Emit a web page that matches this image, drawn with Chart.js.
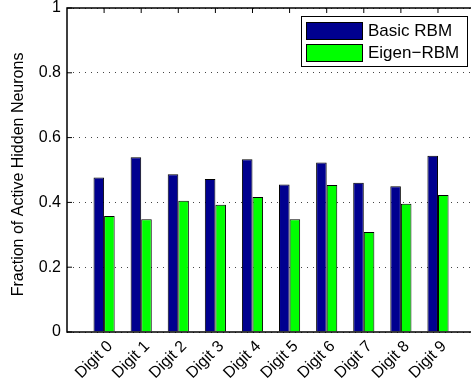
<!DOCTYPE html>
<html>
<head>
<meta charset="utf-8">
<script src="https://cdn.jsdelivr.net/npm/chart.js@4.4.0/dist/chart.umd.min.js"></script>
<style>
  html, body { margin: 0; padding: 0; background: #fff; overflow: hidden; }
</style>
</head>
<body>
<canvas id="c" width="471" height="381"></canvas>
<script>
const categories = ['Digit 0','Digit 1','Digit 2','Digit 3','Digit 4','Digit 5','Digit 6','Digit 7','Digit 8','Digit 9'];
const basicRBM = [0.477, 0.539, 0.487, 0.472, 0.533, 0.455, 0.523, 0.461, 0.450, 0.544];
const eigenRBM = [0.358, 0.348, 0.405, 0.393, 0.417, 0.348, 0.454, 0.309, 0.396, 0.423];
const seriesNames = ['Basic RBM', 'Eigen\u2212RBM'];
const yTicks = [0, 0.2, 0.4, 0.6, 0.8, 1];
const xMin = 0, xMax = 10.89; // axis runs 0..11, right end falls just past the picture

const toPoints = arr => arr.map((v, i) => ({ x: i + 1, y: v }));

const FONT = '"Liberation Sans", Arial, Helvetica, sans-serif';

const framePlugin = {
  id: 'frame',
  afterDatasetsDraw(chart) {
    const {ctx, chartArea: a, scales} = chart;
    ctx.save();
    ctx.strokeStyle = '#000';
    ctx.lineWidth = 1.5;
    ctx.strokeRect(a.left, a.top, a.right - a.left + 10, a.bottom - a.top);
    ctx.lineWidth = 1;
    yTicks.forEach(v => {
      const y = scales.y.getPixelForValue(v);
      ctx.beginPath(); ctx.moveTo(a.left, y); ctx.lineTo(a.left + 5, y); ctx.stroke();
    });
    categories.forEach((c, i) => {
      const x = scales.x.getPixelForValue(i + 1);
      ctx.beginPath(); ctx.moveTo(x, a.top); ctx.lineTo(x, a.top + 5); ctx.stroke();
    });
    ctx.restore();
  },
  afterDraw(chart) {
    const {ctx} = chart;
    const ds = chart.data.datasets;
    const bx = 301, by = 16, bw = 166, bh = 50;
    ctx.save();
    ctx.fillStyle = '#fff';
    ctx.fillRect(bx, by, bw, bh);
    ctx.strokeStyle = '#000';
    ctx.lineWidth = 1;
    ctx.strokeRect(bx + 0.5, by + 0.5, bw, bh);
    ctx.font = '17px ' + FONT;
    ctx.textBaseline = 'middle';
    ctx.textAlign = 'left';
    ds.forEach((d, i) => {
      const sy = 22 + i * 22;
      ctx.fillStyle = d.backgroundColor;
      ctx.fillRect(306, sy, 56, 17);
      ctx.strokeStyle = '#000';
      ctx.strokeRect(306.5, sy + 0.5, 56, 17);
      ctx.fillStyle = '#000';
      ctx.fillText(d.label, 368, sy + 9);
    });
    ctx.restore();
  }
};

new Chart(document.getElementById('c'), {
  type: 'bar',
  data: {
    datasets: [
      { label: seriesNames[0], data: toPoints(basicRBM), backgroundColor: '#00008f', borderColor: '#000', borderWidth: 1, borderSkipped: 'bottom' },
      { label: seriesNames[1], data: toPoints(eigenRBM), backgroundColor: '#00ff00', borderColor: '#000', borderWidth: 1, borderSkipped: 'bottom' }
    ]
  },
  options: {
    responsive: false,
    animation: false,
    devicePixelRatio: 1,
    layout: { padding: 0 },
    plugins: { legend: { display: false }, tooltip: { enabled: false } },
    datasets: { bar: { categoryPercentage: 0.57, barPercentage: 1.0 } },
    scales: {
      x: {
        type: 'linear',
        min: xMin, max: xMax,
        offset: false,
        grid: { display: false, drawTicks: false },
        border: { display: false },
        afterBuildTicks(s) { s.ticks = categories.map((c, i) => ({ value: i + 1 })); },
        ticks: {
          autoSkip: false, maxRotation: 45, minRotation: 45,
          padding: 5, labelOffset: 6,
          color: '#000', font: { family: FONT, size: 16, lineHeight: 1.2 },
          callback: (v) => categories[Math.round(v) - 1] || ''
        },
        afterFit(s) { s.height = 49; }
      },
      y: {
        min: 0, max: 1,
        grid: { color: '#444', lineWidth: 1, drawTicks: false, borderDash: [1, 5] },
        border: { display: false, dash: [1, 5] },
        afterBuildTicks(s) { s.ticks = yTicks.map(v => ({ value: v })); },
        ticks: {
          padding: 6, color: '#000',
          font: { family: FONT, size: 16, lineHeight: 0.25 },
          callback: (v) => String(Math.round(v * 10) / 10)
        },
        title: {
          display: true, text: 'Fraction of Active Hidden Neurons\u00a0\u00a0', color: '#000',
          font: { family: FONT, size: 16, lineHeight: 1.2 }, padding: { top: 9, bottom: 0 }
        },
        afterFit(s) { s.width = 67; }
      }
    }
  },
  plugins: [framePlugin]
});
</script>
</body>
</html>
